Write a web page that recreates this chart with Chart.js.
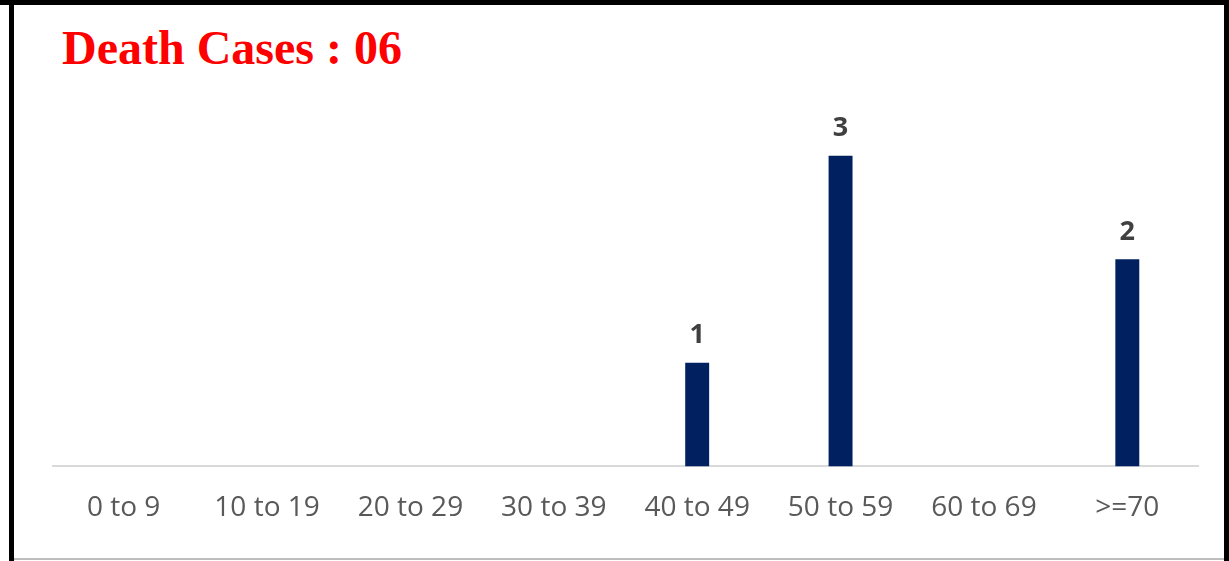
<!DOCTYPE html>
<html>
<head>
<meta charset="utf-8">
<script src="https://cdn.jsdelivr.net/npm/chart.js@4/dist/chart.umd.min.js"></script>
<style>
  html, body { margin: 0; padding: 0; background: #fff; }
  body { width: 1229px; height: 561px; position: relative; overflow: hidden; }
  .frame-top { position: absolute; left: 0; top: 0; width: 1229px; height: 5px; background: #000; }
  .frame-left { position: absolute; left: 9px; top: 0; width: 5px; height: 561px; background: #000; }
  .frame-right { position: absolute; left: 1224px; top: 4px; width: 5px; height: 557px; background: #000; }
  .frame-bottom { position: absolute; left: 14px; top: 558px; width: 1210px; height: 2px; background: #bdbdbd; }
  .title {
    position: absolute; left: 62px; top: 20px;
    font-family: "Liberation Serif", "Times New Roman", serif;
    font-weight: bold; font-size: 48px; color: #ff0000; white-space: nowrap;
  }
  #wrap { position: absolute; left: 52px; top: 0; width: 1147px; height: 561px; }
</style>
</head>
<body>
<div class="frame-top"></div>
<div class="frame-left"></div>
<div class="frame-right"></div>
<div class="frame-bottom"></div>
<div class="title">Death Cases : 06</div>
<div id="wrap"><canvas id="chart"></canvas></div>
<script>
// age groups and death counts
const ageGroups = ['0 to 9', '10 to 19', '20 to 29', '30 to 39', '40 to 49', '50 to 59', '60 to 69', '>=70'];
const deaths = [0, 0, 0, 0, 1, 3, 0, 2];

// draw the count above each non-zero bar
const barLabels = {
    id: 'barLabels',
    afterDatasetsDraw(chart) {
        const ctx = chart.ctx;
        const meta = chart.getDatasetMeta(0);
        ctx.save();
        ctx.font = 'bold 27px "Open Sans", sans-serif';
        ctx.fillStyle = '#404040';
        ctx.textAlign = 'center';
        ctx.textBaseline = 'bottom';
        meta.data.forEach((bar, i) => {
            if (!deaths[i]) return;
            ctx.fillText(String(deaths[i]), bar.x, bar.y - 14);
        });
        ctx.restore();
    }
};

new Chart(document.getElementById('chart'), {
    type: 'bar',
    data: {
        labels: ageGroups,
        datasets: [{
            data: deaths,
            backgroundColor: '#002060',
            borderWidth: 0,
            barPercentage: 0.167,
            categoryPercentage: 1.0
        }]
    },
    options: {
        responsive: true,
        maintainAspectRatio: false,
        animation: false,
        layout: { padding: { top: 104, bottom: 11, left: 0, right: 0 } },
        plugins: { legend: { display: false }, tooltip: { enabled: false } },
        scales: {
            x: {
                grid: { display: false, drawTicks: false },
                border: { display: true, color: '#d9d9d9', width: 2 },
                ticks: {
                    color: '#595959',
                    padding: 25,
                    font: { family: '"Open Sans", sans-serif', size: 28 }
                }
            },
            y: {
                display: false,
                min: 0,
                max: 3.5
            }
        }
    },
    plugins: [barLabels]
});
</script>
</body>
</html>
